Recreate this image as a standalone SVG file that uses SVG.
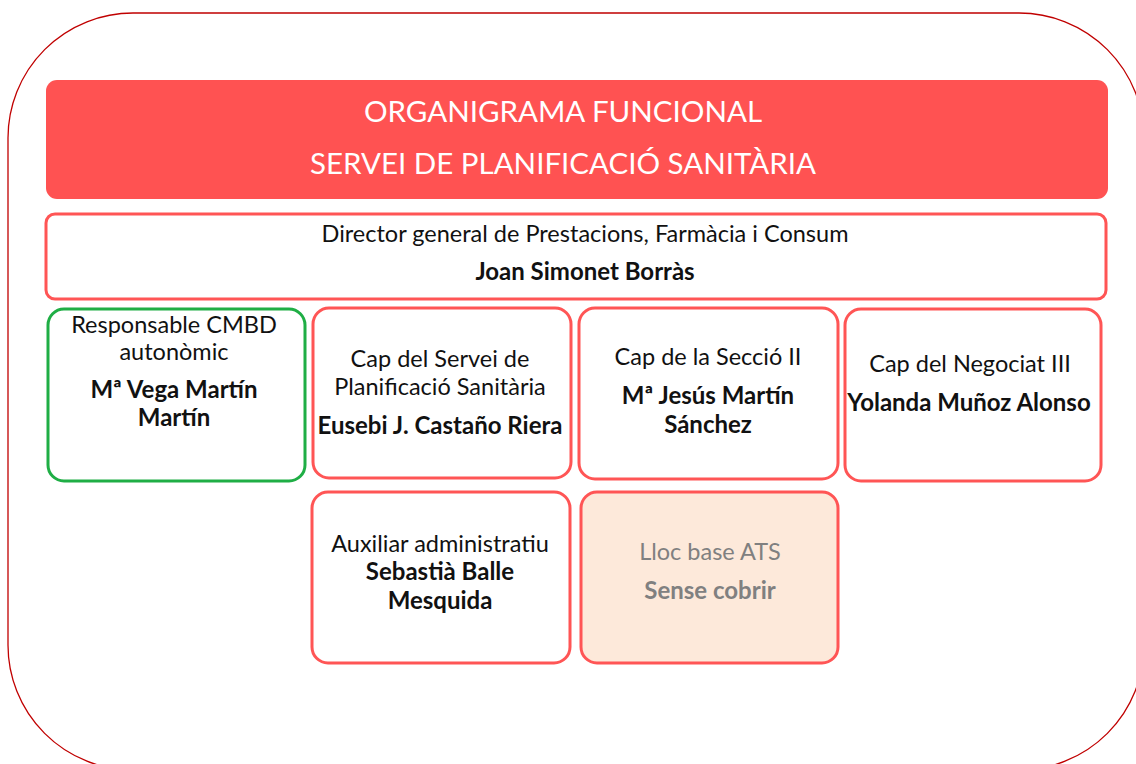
<svg xmlns="http://www.w3.org/2000/svg" width="1136" height="764" viewBox="0 0 1136 764">
<style>
.box{fill:#ffffff;stroke:#ff5555;stroke-width:3}
.t{font-family:Lato,"Open Sans",sans-serif;font-size:23.5px;fill:#111;text-anchor:middle}
.b{font-weight:bold;font-size:24px}
.title{font-family:Lato,"Open Sans",sans-serif;font-size:29.5px;fill:#ffffff;text-anchor:middle}
.g{fill:#808080}
</style>
<rect x="8" y="13" width="1136" height="757" rx="125" ry="125" fill="#ffffff" stroke="#c00000" stroke-width="1.3"/>
<g id="title">
<rect x="46" y="80" width="1062" height="119" rx="11" fill="#ff5252"/>
<text class="title" x="563" y="122">ORGANIGRAMA FUNCIONAL</text>
<text class="title" x="563" y="174">SERVEI DE PLANIFICACIÓ SANITÀRIA</text>
</g>
<g id="director">
<rect class="box" x="46" y="214" width="1060" height="85" rx="9"/>
<text class="t" x="585" y="242">Director general de Prestacions, Farmàcia i Consum</text>
<text class="t b" x="585" y="280">Joan Simonet Borràs</text>
</g>
<g id="cmbd">
<rect class="box" x="48" y="309" width="257" height="172" rx="16" style="stroke:#1fae45"/>
<text class="t" x="174" y="333">Responsable CMBD</text>
<text class="t" x="174" y="360">autonòmic</text>
<text class="t b" x="174" y="398">Mª Vega Martín</text>
<text class="t b" x="174" y="426">Martín</text>
</g>
<g id="cap-servei">
<rect class="box" x="313" y="308" width="258" height="170" rx="16"/>
<text class="t" x="440" y="367">Cap del Servei de</text>
<text class="t" x="440" y="395">Planificació Sanitària</text>
<text class="t b" x="440" y="434">Eusebi J. Castaño Riera</text>
</g>
<g id="cap-seccio">
<rect class="box" x="579" y="308" width="259" height="171" rx="16"/>
<text class="t" x="708" y="365">Cap de la Secció II</text>
<text class="t b" x="708" y="404">Mª Jesús Martín</text>
<text class="t b" x="708" y="433">Sánchez</text>
</g>
<g id="cap-negociat">
<rect class="box" x="845" y="309" width="256" height="172" rx="16"/>
<text class="t" x="970" y="372">Cap del Negociat III</text>
<text class="t b" x="969" y="411">Yolanda Muñoz Alonso</text>
</g>
<g id="auxiliar">
<rect class="box" x="312" y="492" width="258" height="171" rx="16"/>
<text class="t" x="440" y="552">Auxiliar administratiu</text>
<text class="t b" x="440" y="580">Sebastià Balle</text>
<text class="t b" x="440" y="609">Mesquida</text>
</g>
<g id="ats">
<rect class="box" x="581" y="492" width="257" height="171" rx="16" style="fill:#fde9da"/>
<text class="t g" x="710" y="560">Lloc base ATS</text>
<text class="t b g" x="710" y="599">Sense cobrir</text>
</g>
<g id="connectors"></g>
</svg>
